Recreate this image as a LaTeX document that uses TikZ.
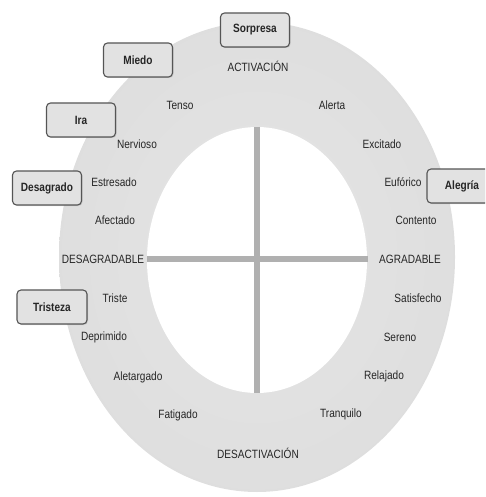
\documentclass[tikz,border=0pt]{standalone}
\usepackage{fontspec}
\setmainfont{Liberation Sans}[FakeStretch=0.84]
\usetikzlibrary{shadows}
\definecolor{ringline}{HTML}{B0B0B0}
\definecolor{boxfill}{HTML}{E2E2E2}
\definecolor{boxdraw}{HTML}{555555}
\definecolor{txt}{HTML}{262626}
\pgfdeclareradialshading{ringshade}{\pgfpoint{0bp}{0bp}}{color(0bp)=(gray!20); color(27bp)=(gray!26); color(38bp)=(gray!36); color(50bp)=(gray!58)}
\tikzset{
  word/.style={font=\fontsize{12pt}{13pt}\selectfont, text=txt, inner sep=0pt},
  emo/.style={draw=boxdraw, line width=1.1pt, fill=boxfill, rounded corners=4pt,
    minimum width=69pt, minimum height=34pt, font=\bfseries\fontsize{12pt}{13pt}\selectfont,
    text=black!85, drop shadow={shadow xshift=1pt, shadow yshift=-1pt, opacity=0.25}},
  axis/.style={draw=ringline, line width=6pt}
}
\begin{document}
\begin{tikzpicture}[x=1pt,y=-1pt]
\useasboundingbox (0,0) rectangle (485,497);
\begin{scope}
\clip (0,0) rectangle (485,497);
% ring
\shade[shading=ringshade] (257,257) ellipse [x radius=198, y radius=235];
\fill[white] (257,260) ellipse [x radius=110, y radius=133];
% axes
\coordinate (top) at (257,127);
\coordinate (bot) at (257,393);
\coordinate (lft) at (147,259);
\coordinate (rgt) at (368,259);
\draw[axis] (top) -- (bot);
\draw[axis] (lft) -- (rgt);
% words
\node[word] (activ) at (258,66) {ACTIVACIÓN};
\node[word] (desact) at (258,453) {DESACTIVACIÓN};
\node[word] (desag) at (103,259) {DESAGRADABLE};
\node[word] (agrad) at (410,259) {AGRADABLE};
\node[word] (tenso) at (180,105) {Tenso};
\node[word] (alerta) at (332,105) {Alerta};
\node[word] (nerv) at (137,144) {Nervioso};
\node[word] (excit) at (382,144) {Excitado};
\node[word] (estres) at (114,182) {Estresado};
\node[word] (eufor) at (403,182) {Eufórico};
\node[word] (afect) at (115,220) {Afectado};
\node[word] (content) at (416,220) {Contento};
\node[word] (triste) at (115,298) {Triste};
\node[word] (satisf) at (418,298) {Satisfecho};
\node[word] (deprim) at (104,337) {Deprimido};
\node[word] (sereno) at (400,337) {Sereno};
\node[word] (aletarg) at (138,377) {Aletargado};
\node[word] (relaj) at (384,376) {Relajado};
\node[word] (fatig) at (178,415) {Fatigado};
\node[word] (tranq) at (341,414) {Tranquilo};
% emotion boxes
\node[emo] (sorpresa) at (255,30) {Sorpresa};
\node[emo] (miedo) at (138,60) {Miedo};
\node[emo] (ira) at (81,120) {Ira};
\node[emo] (desagrado) at (47,188) {Desagrado};
\node[emo, minimum width=70pt] (alegria) at (462,186) {Alegría};
\node[emo, minimum width=70pt] (tristeza) at (52,307) {Tristeza};
\end{scope}
\end{tikzpicture}
\end{document}
